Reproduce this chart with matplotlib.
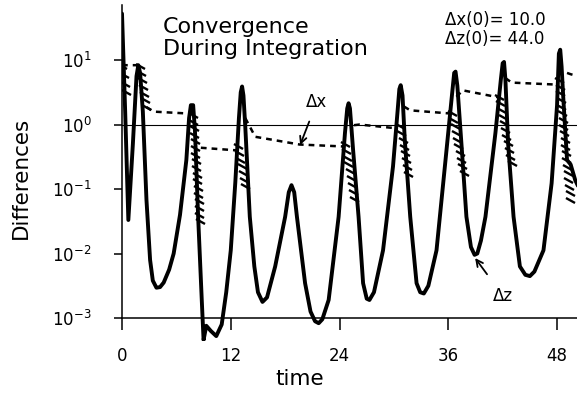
import numpy as np
import matplotlib
matplotlib.use('Agg')
import matplotlib.pyplot as plt
from matplotlib.path import Path

# --- data (log10 of the differences) ---
dz_t = [0.0, 0.35, 0.7, 1.2, 1.6, 1.8, 2.0, 2.3, 2.7, 3.1, 3.4, 3.8, 4.2, 4.6, 5.2,
        5.7, 6.4, 7.1, 7.4, 7.6, 7.85, 8.05, 8.4, 8.8, 9.0, 9.3, 9.8, 10.4, 11.0,
        11.5, 12.0, 12.5, 12.9, 13.1, 13.25, 13.4, 13.6, 14.1, 14.6, 15.0, 15.5,
        16.0, 16.9, 18.0, 18.4, 18.7, 19.0, 19.3, 20.2, 20.8, 21.3, 21.7, 22.1,
        22.8, 23.9, 24.6, 24.85, 25.0, 25.15, 25.5, 26.1, 26.6, 27.0, 27.3, 27.8,
        28.8, 29.9, 30.4, 30.6, 30.75, 30.95, 31.2, 31.8, 32.5, 32.9, 33.3, 33.8,
        34.7, 35.8, 36.4, 36.65, 36.8, 37.0, 37.5, 38.0, 38.5, 38.9, 39.2, 39.6,
        40.1, 41.2, 41.8, 42.0, 42.15, 42.3, 42.6, 43.2, 43.9, 44.5, 45.0, 45.5,
        46.5, 47.4, 48.0, 48.2, 48.35, 48.5, 48.7, 49.1, 49.5, 50.0, 50.3]
dz_log = [1.72, 0.2, -1.48, -0.3, 0.75, 0.92, 0.8, 0.2, -1.17, -2.1, -2.42, -2.53, -2.52, -2.45, -2.25,
          -2.0, -1.4, -0.55, 0.1, 0.3, 0.3, -0.1, -1.43, -2.72, -3.34, -3.12, -3.2, -3.28, -3.1,
          -2.6, -1.95, -0.9, 0.1, 0.5, 0.59, 0.45, -0.03, -1.43, -2.2, -2.6, -2.75,
          -2.68, -2.2, -1.43, -1.05, -0.94, -1.05, -1.43, -2.46, -2.9, -3.05, -3.08, -3.02,
          -2.72, -1.43, -0.13, 0.25, 0.33, 0.25, -0.4, -1.43, -2.46, -2.7, -2.72, -2.6,
          -1.95, -0.65, 0.2, 0.55, 0.61, 0.45, -0.24, -1.43, -2.46, -2.6, -2.62, -2.5,
          -1.95, -0.4, 0.45, 0.8, 0.82, 0.6, -0.4, -1.43, -1.9, -2.02, -2.0, -1.8,
          -1.43, -0.13, 0.7, 0.95, 0.97, 0.7, -0.3, -1.43, -2.2, -2.33, -2.35, -2.28,
          -1.95, -0.91, 0.3, 1.1, 1.16, 0.9, 0.38, -0.55, -0.62, -0.86, -0.95]

# delta x plateaus (dashed), nan separates pieces
dx_t = [0.0, 2.0, np.nan,
        2.7, 3.5, 7.4, np.nan,
        8.7, 12.6, np.nan,
        13.6, 14.7, 19.6, 24.4, np.nan,
        25.6, 26.2, 30.4, np.nan,
        31.1, 31.8, 36.3, np.nan,
        36.9, 37.6, 41.6, np.nan,
        42.3, 43.0, 47.8, np.nan,
        49.1, 49.5, 50.3]
dx_log = [0.92, 0.92, np.nan,
          0.27, 0.2, 0.17, np.nan,
          -0.36, -0.40, np.nan,
          0.1, -0.19, -0.31, -0.34, np.nan,
          -0.01, 0.0, -0.06, np.nan,
          0.28, 0.22, 0.17, np.nan,
          0.43, 0.53, 0.42, np.nan,
          0.72, 0.65, 0.62, np.nan,
          0.8, 0.78, 0.75]

# hatched drops of delta x: start time, end time, top, bottom
hatch_t0 = [0.05, 2.0, 7.8, 12.8, 24.6, 30.7, 36.4, 41.55, 48.2]
hatch_t1 = [0.4, 2.7, 8.6, 13.6, 25.6, 31.6, 37.7, 43.0, 49.45]
hatch_top = [0.9, 0.9, 0.15, -0.34, -0.3, -0.03, 0.18, 0.43, 0.69]
hatch_bot = [0.5, 0.27, -1.5, -0.96, -1.15, -0.76, -0.75, -0.6, -1.17]

xticks = [0, 12, 24, 36, 48]
ydecades = [-3, -2, -1, 0, 1]

fig = plt.figure(figsize=(5.77, 3.94), dpi=100)
ax = fig.add_axes([122/577, 0.1355, 455/577, 0.8513])

ax.plot(dz_t, 10**np.array(dz_log), color='k', lw=2.8,
        solid_joinstyle='round', solid_capstyle='round')
ax.plot(dx_t, 10**np.array(dx_log), color='k', lw=1.8, ls=(0, (2.3, 2.0)))

stroke = Path([(-1, 0.55), (1, -0.55)], [Path.MOVETO, Path.LINETO])
for t0, t1, top, bot in zip(hatch_t0, hatch_t1, hatch_top, hatch_bot):
    n = max(3, int((top - bot) * 64.5 / 6.5) + 1)
    ht = np.linspace(t0, t1, n)
    hl = np.linspace(top, bot, n)
    ax.plot(ht, 10**hl, ls='none', marker=stroke, ms=6.5, mew=1.7, mec='k')

ax.axhline(1, color='k', lw=0.8)

ax.set_yscale('log')
ax.set_xlim(0, 50.2)
ax.set_ylim(10**-3.35, 10**1.85)
ax.set_xticks(xticks)
ax.set_yticks([10.0**d for d in ydecades])
ax.minorticks_off()

for s in ['top', 'right']:
    ax.spines[s].set_visible(False)
ax.spines['bottom'].set_position(('data', 1e-3))
ax.spines['left'].set_bounds(1e-3, 10**1.85)
ax.spines['left'].set_linewidth(1.1)
ax.spines['bottom'].set_linewidth(1.1)
ax.tick_params(axis='x', direction='out', length=8.5, width=1.1, pad=12, labelsize=12)
ax.tick_params(axis='y', direction='out', length=6, width=1.1, pad=16, labelsize=12)

ax.set_xlabel('time', fontsize=15.5)
ax.xaxis.set_label_coords((300 - 122) / 455, -0.085)
ax.set_ylabel('Differences', fontsize=15.5)
ax.yaxis.set_label_coords(-0.20, 0.486)

fig.text(163/577, 1 - 17/394, 'Convergence\nDuring Integration', fontsize=16,
         ha='left', va='top', linespacing=1.15)
fig.text(445/577, 1 - 11/394, 'Δx(0)= 10.0\nΔz(0)= 44.0', fontsize=12,
         ha='left', va='top', linespacing=1.1)

ax.annotate('Δx', xy=(19.65, 10**-0.318), xytext=(21.5, 10**0.35), fontsize=12,
            ha='center', va='center',
            arrowprops=dict(arrowstyle='->', lw=1.3, color='k', shrinkA=6, shrinkB=0))
ax.annotate('Δz', xy=(38.96, 10**-2.07), xytext=(42.05, 10**-2.66), fontsize=12,
            ha='center', va='center',
            arrowprops=dict(arrowstyle='->', lw=1.3, color='k', shrinkA=9, shrinkB=0))

fig.savefig('out.png', dpi=100)
